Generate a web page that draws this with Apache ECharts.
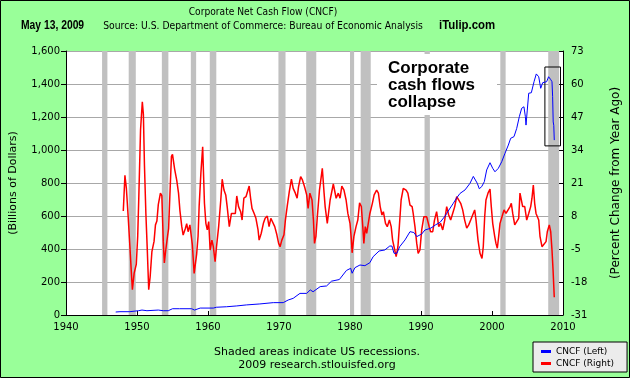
<!DOCTYPE html>
<html><head><meta charset="utf-8">
<script src="https://cdn.jsdelivr.net/npm/echarts@6/dist/echarts.min.js"></script>
<style>html,body{margin:0;padding:0;background:#99ff99;}#c{width:630px;height:378px;}</style>
</head><body><div id="c"></div>
<script>
// ---- data (year, value) ----
var xTicks = [1940, 1950, 1960, 1970, 1980, 1990, 2000, 2010];
var leftTicks = [0, 200, 400, 600, 800, 1000, 1200, 1400, 1600];
var rightTicks = [-31, -18, -5, 8, 21, 34, 47, 60, 73];
var legendNames = ['CNCF (Left)', 'CNCF (Right)'];

// Corporate Net Cash Flow, billions of dollars (left axis)
var cncfLevel = [
[1947.0,18],[1947.6,20],[1949.0,20],[1950.2,26],[1950.7,30],[1951.4,26],[1953.0,30],[1953.7,26],[1954.4,26],
[1955.0,38],[1956.0,38],[1957.7,38],[1958.1,30],[1958.9,42],[1960.75,42],[1961.2,47],[1962.6,50],[1964.05,55],
[1965.4,61],[1967.3,67],[1969.2,75],[1970.6,75],[1971.3,91],[1972.0,101],[1972.95,131],[1973.9,131],[1974.4,152],
[1974.8,141],[1975.8,172],[1976.7,176],[1977.4,205],[1978.5,215],[1979.5,270],[1980.1,283],[1980.3,253],[1980.7,287],
[1981.4,303],[1982.1,299],[1982.8,317],[1983.25,353],[1984.1,388],[1984.9,394],[1985.6,418],[1985.9,418],[1986.2,374],
[1986.6,374],[1987.0,414],[1987.75,455],[1988.45,505],[1989.0,500],[1989.4,475],[1990.1,491],[1990.55,515],[1991.3,525],
[1991.7,535],[1992.0,545],[1992.7,562],[1993.4,600],[1993.62,616],[1994.55,677],[1995.03,710],[1995.5,737],[1996.2,758],
[1996.9,798],[1997.37,840],[1997.65,842],[1997.93,798],[1998.21,765],[1998.55,778],[1998.92,808],[1999.25,879],
[1999.72,923],[2000.1,889],[2000.42,868],[2000.89,889],[2001.37,929],[2001.83,980],[2002.3,1030],[2002.63,1071],
[2002.82,1061],[2003.1,1081],[2003.48,1131],[2003.85,1202],[2004.18,1253],[2004.5,1262],[2004.7,1202],[2004.79,1151],
[2004.97,1242],[2005.17,1344],[2005.54,1347],[2005.92,1414],[2006.24,1461],[2006.58,1444],[2006.86,1374],[2007.14,1408],
[2007.42,1404],[2007.7,1414],[2007.97,1444],[2008.25,1428],[2008.45,1414],[2008.54,1323],[2008.62,1170],[2008.7,1150],
[2008.77,1060]
];

// Percent change from year ago (right axis)
var cncfChange = [
[1948.07,10],[1948.3,24],[1948.5,19],[1948.75,8],[1949.0,-4],[1949.2,-14],[1949.35,-21],[1949.6,-14.5],[1949.9,-11],
[1950.1,0],[1950.25,15],[1950.5,42],[1950.75,53],[1950.9,48],[1951.05,28],[1951.25,9],[1951.45,-5.4],[1951.65,-21],
[1951.85,-16],[1952.1,-6],[1952.4,-2],[1952.6,4.5],[1952.8,6],[1953.0,12.5],[1953.3,17],[1953.5,16],[1953.7,-2],
[1953.85,-10.5],[1954.05,-5.4],[1954.3,0],[1954.45,3],[1954.65,17.5],[1954.85,31.5],[1955.0,32.3],[1955.3,26.5],
[1955.6,22],[1955.85,17],[1956.05,10],[1956.3,4],[1956.5,0.5],[1956.8,3],[1957.0,5],[1957.2,1.8],[1957.45,4.5],
[1957.65,0],[1957.8,-3.5],[1958.05,-14.6],[1958.15,-15],[1958.4,-7],[1958.6,0],[1958.75,11.7],[1959.0,25],[1959.25,35.3],
[1959.5,13],[1959.7,5.1],[1959.9,2.5],[1960.1,5.8],[1960.3,-5.4],[1960.55,-1.5],[1960.75,-4.1],[1961.0,-10],[1961.2,-4.1],
[1961.5,3.8],[1961.8,14.3],[1962.0,22.5],[1962.25,18.2],[1962.5,16.3],[1962.7,11.7],[1963.0,3.8],[1963.3,9],[1963.55,8.4],
[1963.85,9],[1964.05,15.9],[1964.3,11.7],[1964.6,9.7],[1964.8,6.4],[1965.05,15],[1965.35,15.6],[1965.6,16.3],[1965.8,19.8],
[1966.0,15],[1966.2,11],[1966.5,9],[1966.75,7.1],[1967.05,2.5],[1967.2,-1.5],[1967.5,1.2],[1967.8,5.1],[1968.05,7.1],
[1968.35,8],[1968.6,3.8],[1968.85,7.1],[1969.1,7.7],[1969.4,3.8],[1969.7,0.6],[1969.95,-2.8],[1970.15,-4.1],[1970.4,-1.5],
[1970.7,0.6],[1970.9,6.4],[1971.15,11.7],[1971.45,17.6],[1971.75,22.5],[1972.0,18.9],[1972.3,17],[1972.55,15],[1972.75,19.5],
[1973.05,23.5],[1973.3,22.2],[1973.6,19.5],[1973.9,16.3],[1974.1,11],[1974.35,17],[1974.65,14.3],[1974.85,6.4],[1975.0,-2.8],
[1975.2,0],[1975.4,7.7],[1975.7,18.2],[1975.95,23.5],[1976.1,26.8],[1976.35,17],
[1976.5,11.7],[1976.8,5.1],[1977.2,14.3],[1977.65,20.6],[1978.05,15],[1978.35,17],[1978.6,15],[1978.85,19.8],[1979.15,18.2],
[1979.45,14.3],[1979.7,9],[1980.0,5.1],[1980.2,-1.5],[1980.3,-6.5],[1980.55,0],[1980.85,3.8],[1981.1,6.4],[1981.35,13.2],
[1981.6,11.7],[1981.8,3.8],[1981.95,-2.8],[1982.15,3.8],[1982.35,1.2],[1982.55,1.8],[1982.8,9],[1983.15,13],[1983.4,16.3],
[1983.75,18.2],[1984.0,17],[1984.25,11.7],[1984.5,8.4],[1984.7,9.7],[1985.0,5.1],[1985.25,3.8],[1985.55,6.4],[1985.8,3.8],
[1986.0,-1.5],[1986.3,-5.4],[1986.5,-8],[1986.75,-4.1],[1986.95,3.8],[1987.2,14.3],[1987.5,18.9],[1987.9,18.2],[1988.15,17],
[1988.45,12.3],[1988.75,11.7],[1988.9,9],[1989.15,3.8],[1989.4,-2.8],[1989.6,-6.7],[1989.85,-5.4],[1990.1,2.5],[1990.4,7.7],
[1990.8,7.7],[1991.15,3.8],[1991.35,1.8],[1991.65,1.8],[1991.9,6.4],[1992.2,9.7],[1992.5,3.8],[1992.75,5.1],[1993.06,2.5],
[1993.34,6.4],[1993.62,11.7],[1993.9,8.4],[1994.18,6.4],[1994.46,9],[1994.75,11.7],[1995.03,15.6],[1995.31,15],[1995.59,13],
[1995.87,10.4],[1996.15,6.4],[1996.44,3.2],[1996.72,4.5],[1997.0,6.4],[1997.28,8.4],[1997.56,10.4],[1997.75,6.4],[1998.03,-1.5],
[1998.31,-6.7],[1998.59,-8.7],[1998.77,-4.1],[1998.97,7.7],[1999.15,14.3],[1999.44,17],[1999.72,18.6],[1999.9,11.7],[2000.1,5.1],
[2000.38,0],[2000.56,-2.8],[2000.75,-4.7],[2000.94,0],[2001.13,5.1],[2001.41,7.7],[2001.69,10.4],[2001.97,9],[2002.25,9.7],
[2002.54,11.7],[2002.72,13],[2002.92,9],[2003.2,4.5],[2003.48,5.1],[2003.76,7.1],[2003.94,17],[2004.13,17],[2004.32,11.7],
[2004.61,11.7],[2004.89,6.4],[2005.17,9],[2005.45,11.7],[2005.63,15],[2005.82,20.2],[2006.01,13],[2006.2,9],[2006.38,8.4],
[2006.58,6.4],[2006.76,0],[2007.04,-4.1],[2007.32,-3.8],[2007.61,-2.1],[2007.79,1.8],[2008.07,4.5],[2008.27,1.8],[2008.45,-5.4],
[2008.6,-13.3],[2008.77,-24]
];

// NBER recessions [start, end] in decimal years
var recessions = [
[1945.08,1945.83],[1948.83,1949.83],[1953.5,1954.42],[1957.58,1958.33],[1960.25,1961.17],[1969.92,1970.92],
[1973.83,1975.25],[1980.0,1980.58],[1981.5,1982.92],[1990.5,1991.25],[2001.17,2001.92],[2007.92,2009.45]
];
// annotation box around the collapse [x0, y0, x1, y1] in data units (left axis)
var collapseBox = [2007.45, 1025, 2009.65, 1503];

var FONT = 'DejaVu Sans';
var chart = echarts.init(document.getElementById('c'), null, {renderer: 'canvas'});
var option = {
  backgroundColor: '#99ff99',
  animation: false,
  grid: {left: 66, right: 67, top: 51, bottom: 63, show: true, backgroundColor: '#ffffff', borderWidth: 0},
  legend: {
    data: legendNames, orient: 'vertical', left: 533, top: 342, width: 95,
    backgroundColor: '#ececec', borderColor: '#000', borderWidth: 1,
    padding: [5, 13, 4, 8], itemGap: 3, itemWidth: 10, itemHeight: 3, icon: 'rect',
    textStyle: {fontFamily: FONT, fontSize: 9, color: '#000'}
  },
  xAxis: {
    type: 'value', min: xTicks[0], max: xTicks[xTicks.length - 1], interval: 10,
    axisLine: {lineStyle: {color: '#000', width: 1}},
    axisTick: {inside: true, length: 4, lineStyle: {color: '#000'}},
    axisLabel: {color: '#000', fontFamily: FONT, fontSize: 10, margin: 7, formatter: function (v) { return String(v); }},
    splitLine: {show: false}
  },
  yAxis: [{
    type: 'value', min: leftTicks[0], max: leftTicks[leftTicks.length - 1], interval: 200,
    position: 'left',
    name: '(Billions of Dollars)', nameLocation: 'middle', nameGap: 47, nameRotate: 90,
    nameTextStyle: {color: '#000', fontFamily: FONT, fontSize: 11},
    axisLine: {show: true, lineStyle: {color: '#000'}},
    axisTick: {show: true, length: 5, lineStyle: {color: '#000'}},
    axisLabel: {color: '#000', fontFamily: FONT, fontSize: 10, margin: 6,
      formatter: function (v) { return v.toLocaleString('en-US'); }},
    splitLine: {show: true, lineStyle: {color: '#a8a8a8', width: 1}}
  }, {
    type: 'value', min: rightTicks[0], max: rightTicks[rightTicks.length - 1], interval: 13,
    position: 'right',
    name: '(Percent Change from Year Ago)', nameLocation: 'middle', nameGap: 47, nameRotate: 90,
    nameTextStyle: {color: '#000', fontFamily: FONT, fontSize: 12},
    axisLine: {show: true, lineStyle: {color: '#000'}},
    axisTick: {show: true, inside: true, length: 4, lineStyle: {color: '#000'}},
    axisLabel: {color: '#000', fontFamily: FONT, fontSize: 10, margin: 8},
    splitLine: {show: false}
  }],
  series: [{
    name: 'recessions', type: 'line', data: [], z: 1, silent: true,
    markArea: {silent: true, itemStyle: {color: '#c0c0c0'},
      data: recessions.map(function (r) { return [{xAxis: r[0]}, {xAxis: r[1]}]; })}
  }, {
    name: legendNames[0], type: 'line', data: cncfLevel, yAxisIndex: 0, z: 5,
    showSymbol: false, symbol: 'none', color: '#0000ff',
    lineStyle: {color: '#0000ff', width: 1},
    markArea: {silent: true, itemStyle: {color: 'rgba(0,0,0,0)', borderColor: '#000', borderWidth: 1},
      data: [[{coord: [collapseBox[0], collapseBox[1]]}, {coord: [collapseBox[2], collapseBox[3]]}]]}
  }, {
    name: legendNames[1], type: 'line', data: cncfChange, yAxisIndex: 1, z: 4,
    showSymbol: false, symbol: 'none', color: '#ff0000',
    lineStyle: {color: '#ff0000', width: 1.5}
  }],
  graphic: [
    {type: 'rect', z: 50, shape: {x: 377, y: 54, width: 120, height: 61}, style: {fill: '#ffffff'}},
    {type: 'text', z: 51, left: 388, top: 60, style: {text: 'Corporate\ncash flows\ncollapse',
      font: 'bold 17px "Liberation Sans"', fill: '#000', lineHeight: 17}},
    {type: 'text', x: 263, y: 7, scaleX: 0.83, style: {text: 'Corporate Net Cash Flow (CNCF)', textAlign: 'center', font: '11px "DejaVu Sans"', fill: '#000'}},
    {type: 'text', x: 263, y: 21, scaleX: 0.84, style: {text: 'Source: U.S. Department of Commerce: Bureau of Economic Analysis', textAlign: 'center', font: '11px "DejaVu Sans"', fill: '#000'}},
    {type: 'text', x: 21, y: 20, scaleX: 0.86, style: {text: 'May 13, 2009', textAlign: 'left', font: 'bold 12px "Liberation Sans"', fill: '#000'}},
    {type: 'text', x: 439, y: 20, scaleX: 0.95, style: {text: 'iTulip.com', textAlign: 'left', font: 'bold 12px "Liberation Sans"', fill: '#000'}},
    {type: 'text', x: 317, y: 347, style: {text: 'Shaded areas indicate US recessions.', textAlign: 'center', font: '11px "DejaVu Sans"', fill: '#000'}},
    {type: 'text', x: 317, y: 360, style: {text: '2009 research.stlouisfed.org', textAlign: 'center', font: '11px "DejaVu Sans"', fill: '#000'}},
    {type: 'rect', z: 100, silent: true, shape: {x: 0.5, y: 0.5, width: 629, height: 377}, style: {fill: 'rgba(0,0,0,0)', stroke: '#000', lineWidth: 1}}
  ]
};
chart.setOption(option);
</script></body></html>
